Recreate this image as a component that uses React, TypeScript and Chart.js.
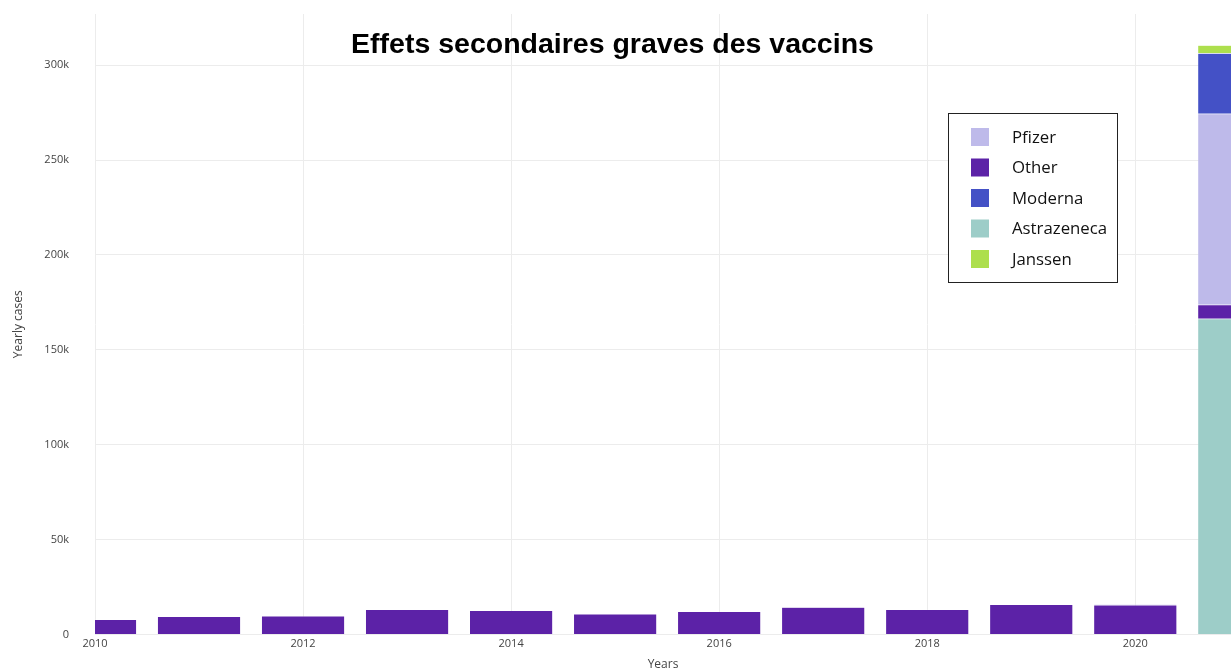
import React, { useEffect, useRef } from "react";
import { Chart, registerables } from "chart.js";

Chart.register(...registerables);

const years = [2010, 2011, 2012, 2013, 2014, 2015, 2016, 2017, 2018, 2019, 2020, 2021];
const otherValues = [7900, 9500, 9800, 13200, 12700, 10800, 12100, 14300, 13200, 15800, 15500, 7400];
const pfizerValues = [0, 0, 0, 0, 0, 0, 0, 0, 0, 0, 400, 100600];
const modernaValues = [0, 0, 0, 0, 0, 0, 0, 0, 0, 0, 0, 31900];
const astrazenecaValues = [0, 0, 0, 0, 0, 0, 0, 0, 0, 0, 0, 166400];
const janssenValues = [0, 0, 0, 0, 0, 0, 0, 0, 0, 0, 0, 4200];
const xTicks = [2010, 2012, 2014, 2016, 2018, 2020];
const yTicks = [0, 50000, 100000, 150000, 200000, 250000, 300000];
const legendOrder = ["Pfizer", "Other", "Moderna", "Astrazeneca", "Janssen"];
const titleText = "Effets secondaires graves des vaccins";

const COLORS: Record<string, string> = {
  Pfizer: "#bebaea",
  Other: "#5c22a7",
  Moderna: "#4451c6",
  Astrazeneca: "#9dcdc8",
  Janssen: "#addf4d",
};

const toPoints = (vals: number[]) => years.map((y, i) => ({ x: y, y: vals[i] }));

const overlayPlugin = {
  id: "overlay",
  afterDraw(chart: any) {
    const ctx = chart.ctx;
    ctx.save();
    ctx.font = "bold 28.5px 'Liberation Sans', Arial, sans-serif";
    ctx.fillStyle = "#000";
    ctx.textAlign = "center";
    ctx.textBaseline = "middle";
    ctx.fillText(titleText, 612.5, 45);
    const bx = 948, by = 113, bw = 169, bh = 169;
    ctx.fillStyle = "#ffffff";
    ctx.fillRect(bx, by, bw, bh);
    ctx.strokeStyle = "#222";
    ctx.lineWidth = 1;
    ctx.strokeRect(bx + 0.5, by + 0.5, bw, bh);
    ctx.font = "16.8px 'Open Sans', sans-serif";
    ctx.textAlign = "left";
    legendOrder.forEach((name, i) => {
      const cy = 137 + i * 30.5;
      ctx.fillStyle = COLORS[name];
      ctx.fillRect(971, cy - 9, 18, 18);
      ctx.fillStyle = "#111";
      ctx.fillText(name, 1012, cy + 1);
    });
    ctx.restore();
  },
};

export default function App() {
  const ref = useRef<HTMLCanvasElement | null>(null);
  useEffect(() => {
    if (!ref.current) return;
    const mk = (label: string, vals: number[]) => ({
      label,
      data: toPoints(vals),
      backgroundColor: COLORS[label],
      borderColor: "rgba(255,255,255,0.5)",
      borderWidth: 0.5,
      barPercentage: 0.8,
      categoryPercentage: 1,
      clip: 0,
    });
    const chart = new Chart(ref.current, {
      type: "bar",
      data: {
        datasets: [
          mk("Astrazeneca", astrazenecaValues),
          mk("Other", otherValues),
          mk("Pfizer", pfizerValues),
          mk("Moderna", modernaValues),
          mk("Janssen", janssenValues),
        ] as any,
      },
      options: {
        animation: false,
        responsive: false,
        maintainAspectRatio: false,
        layout: { padding: { top: 14, right: 0, left: 0, bottom: 0 } },
        plugins: { legend: { display: false }, title: { display: false }, tooltip: { enabled: false } },
        scales: {
          x: {
            type: "linear",
            stacked: true,
            offset: false,
            min: 2010,
            max: 2020.92,
            grid: { color: "#ececec", drawTicks: false, offset: false },
            border: { display: false },
            ticks: {
              includeBounds: false,
              padding: 3,
              color: "#444",
              font: { family: "'Open Sans', sans-serif", size: 11 },
              callback: (v: any) => String(v),
            },
            afterBuildTicks: (scale: any) => {
              scale.ticks = xTicks.map((v) => ({ value: v }));
            },
            afterFit: (scale: any) => {
              scale.height = 36.5;
              scale.paddingLeft = 0;
              scale.paddingRight = 0;
            },
            title: {
              display: true,
              text: "Years",
              color: "#444",
              font: { family: "'Open Sans', sans-serif", size: 12 },
              padding: { top: 0, bottom: -1 },
            },
          },
          y: {
            stacked: true,
            min: 0,
            max: 327000,
            grid: { color: "#ececec", drawTicks: false },
            border: { display: false },
            ticks: {
              padding: 26,
              color: "#444",
              font: { family: "'Open Sans', sans-serif", size: 11 },
              callback: (v: any) => (v === 0 ? "0" : Math.round(v / 1000) + "k"),
            },
            afterBuildTicks: (scale: any) => {
              scale.ticks = yTicks.map((v) => ({ value: v }));
            },
            afterFit: (scale: any) => {
              scale.width = 95;
              scale.paddingTop = 0;
              scale.paddingBottom = 0;
            },
            title: {
              display: true,
              text: "Yearly cases",
              color: "#444",
              font: { family: "'Open Sans', sans-serif", size: 12 },
              padding: { top: 11, bottom: 0 },
            },
          },
        },
      },
      plugins: [overlayPlugin],
    } as any);
    return () => chart.destroy();
  }, []);
  return (
    <div style={{ position: "fixed", left: 0, top: 0, width: 1231, height: 671, background: "#fff", overflow: "hidden" }}>
      <canvas ref={ref} width={1231} height={671} style={{ display: "block" }} />
    </div>
  );
}
